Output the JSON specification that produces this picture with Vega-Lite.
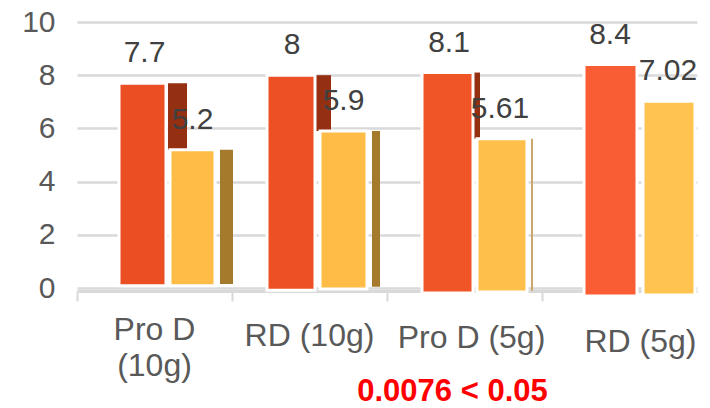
{
"$schema":"https://vega.github.io/schema/vega-lite/v6.json",
"width":620,"height":266,
"autosize":"none",
"padding":{"left":77,"top":22,"right":13,"bottom":120},
"background":"white",
"config":{"view":{"stroke":null},"font":"Liberation Sans"},
"data":{"values":[
{"category":"Pro D (10g)","series":"red","bar":"P10 red side","face":"side","value":7.7,"floor":5.2},
{"category":"Pro D (10g)","series":"red","bar":"P10 red","face":"front","value":7.7,"floor":0.08},
{"category":"Pro D (10g)","series":"yellow","bar":"P10 yellow side","face":"side","value":5.2,"floor":0.15},
{"category":"Pro D (10g)","series":"yellow","bar":"P10 yellow","face":"front","value":5.2,"floor":0.08},
{"category":"RD (10g)","series":"red","bar":"R10 red side","face":"side","value":8,"floor":5.9},
{"category":"RD (10g)","series":"red","bar":"R10 red","face":"front","value":8,"floor":-0.08},
{"category":"RD (10g)","series":"yellow","bar":"R10 yellow side","face":"side","value":5.9,"floor":0.05},
{"category":"RD (10g)","series":"yellow","bar":"R10 yellow","face":"front","value":5.9,"floor":-0.04},
{"category":"Pro D (5g)","series":"red","bar":"P5 red side","face":"side","value":8.1,"floor":5.61},
{"category":"Pro D (5g)","series":"red","bar":"P5 red","face":"front","value":8.1,"floor":-0.19},
{"category":"Pro D (5g)","series":"yellow","bar":"P5 yellow side","face":"side","value":5.61,"floor":-0.1},
{"category":"Pro D (5g)","series":"yellow","bar":"P5 yellow","face":"front","value":5.61,"floor":-0.15},
{"category":"RD (5g)","series":"red","bar":"R5 red","face":"front","value":8.4,"floor":-0.3},
{"category":"RD (5g)","series":"yellow","bar":"R5 yellow","face":"front","value":7.02,"floor":-0.26}
]},
"encoding":{
"x":{"field":"category","type":"nominal","sort":null,
 "scale":{"paddingInner":0,"paddingOuter":0},
 "axis":{"title":"0.0076 < 0.05","titleColor":"#FF0000","titleFontSize":31,"titleFontWeight":"bold","titleFont":"Liberation Sans","titleX":375,"titleY":100,"titleBaseline":"middle",
  "labelAngle":0,"labelFontSize":32,"labelColor":"#595959","labelFont":"Liberation Sans","labelPadding":38,"labelLimit":300,"labelLineHeight":36,
  "labelBaseline":"alphabetic",
  "labelExpr":"datum.label == 'Pro D (10g)' ? ['Pro D','(10g)'] : datum.label",
  "domainColor":"#D9D9D9","domainWidth":3,"tickColor":"#D9D9D9","tickWidth":2,"tickSize":10,"bandPosition":0,"grid":false,"offset":3,
  "encoding":{"labels":{"dx":{"value":{"expr":"datum.value=='RD (5g)'?21:(datum.value=='Pro D (5g)'?7:0)"}},"dy":{"value":{"expr":"datum.value=='RD (5g)'?12:(datum.value=='Pro D (5g)'?8:(datum.value=='RD (10g)'?6:0))"}}}}
 }},
"y":{"field":"value","type":"quantitative","scale":{"domain":[0,10],"nice":false,"zero":true},
 "axis":{"title":null,"values":[0,2,4,6,8,10],"labelFontSize":30,"labelColor":"#595959","labelFont":"Liberation Sans","labelPadding":22,"domain":false,"ticks":false,"grid":true,"gridColor":"#D9D9D9","gridWidth":2.5}}
},
"layer":[
{"mark":{"type":"bar",
  "stroke":"white",
  "strokeWidth":{"expr":"datum.face=='front'?3:0"},
  "xOffset":{"expr":"{'P10 red':-12,'P10 yellow':38,'R10 red':-18.5,'R10 yellow':34,'P5 red':-17,'P5 yellow':37.5,'R5 red':-9,'R5 yellow':49.5,'P10 red side':23,'P10 yellow side':72,'R10 red side':14,'R10 yellow side':66.5,'P5 red side':12,'P5 yellow side':67.5}[datum.bar]"}},
 "encoding":{"y2":{"field":"floor"},
  "size":{"field":"bar","type":"nominal","legend":null,"scale":{"type":"ordinal",
   "domain":["P10 red side","P10 red","P10 yellow side","P10 yellow","R10 red side","R10 red","R10 yellow side","R10 yellow","P5 red side","P5 red","P5 yellow side","P5 yellow","R5 red","R5 yellow"],
   "range":[19,47,13,45,15,48,8,47,7,51,2,50,53,52]}},
  "color":{"field":"bar","type":"nominal","legend":null,"scale":{"type":"ordinal",
   "domain":["P10 red side","P10 red","P10 yellow side","P10 yellow","R10 red side","R10 red","R10 yellow side","R10 yellow","P5 red side","P5 red","P5 yellow side","P5 yellow","R5 red","R5 yellow"],
   "range":["#952F12","#EA4E22","#A57A2C","#FFBC47","#952F12","#EC5024","#A57A2C","#FFBC47","#952F12","#F05527","#C9A66B","#FFC04B","#F95D33","#FFC44F"]}}}},
{"mark":{"type":"text","fontSize":30,"font":"Liberation Sans","color":"#404040","baseline":"middle","dy":-30,
  "xOffset":{"expr":"{'P10 red':-10,'P10 yellow':38,'R10 red':-17.5,'R10 yellow':34,'P5 red':-15.5,'P5 yellow':35.5,'R5 red':-9.5,'R5 yellow':48.5}[datum.bar]"}},
 "transform":[{"filter":"datum.face=='front'"}],
 "encoding":{"text":{"field":"value","type":"quantitative"}}}
]
}
